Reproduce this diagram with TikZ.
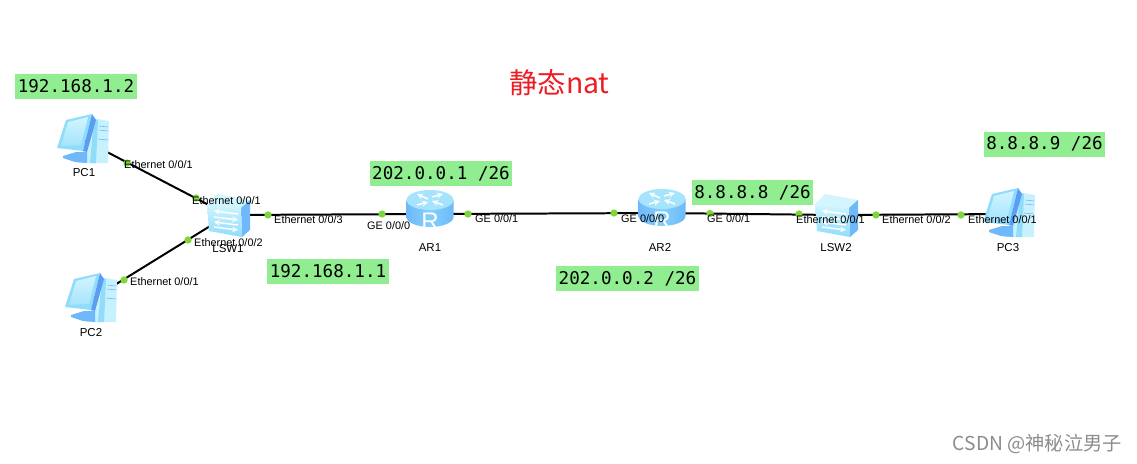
\documentclass[tikz,border=0pt]{standalone}
\usepackage{fontspec}
\setmainfont{Liberation Sans}
\setmonofont{DejaVu Sans Mono}
\newfontfamily\cjkfont{Noto Sans CJK SC}
\definecolor{iconlight}{HTML}{D2F5FF}
\definecolor{iconmid}{HTML}{8FDDFB}
\definecolor{iconblue}{HTML}{6FB8FA}
\definecolor{icondark}{HTML}{5C9DF2}
\definecolor{portgreen}{HTML}{7FD63C}
\definecolor{addrgreen}{HTML}{90EE90}
\definecolor{titlered}{HTML}{ED1C24}
\tikzset{
  link/.style={draw=black, line width=1.7pt},
  portdot/.style={circle, fill=portgreen, inner sep=0pt, minimum size=0.22cm},
  portlabel/.style={anchor=west, inner sep=0pt, font=\fontsize{9.3}{11}\selectfont},
  devlabel/.style={inner sep=0pt, font=\fontsize{9.8}{11}\selectfont},
  addrbox/.style={fill=addrgreen, inner xsep=2.3pt, inner ysep=0pt, minimum height=0.75cm,
    font=\ttfamily\fontsize{15}{17}\selectfont},
  pcicon/.pic={
    \coordinate (-c) at (0,0);
    % tower
    \fill[iconlight!85!iconmid] (8,-22) -- (25,-19) -- (24,23) -- (-6,23) -- (-1,11) -- cycle;
    \fill[iconmid] (10,-21) -- (14,-20) -- (12,23) -- (6,23) -- cycle;
    \draw[iconblue, line width=0.5pt] (15,-14) -- (24,-13) (15,-10) -- (24,-9) (14,-1) -- (24,0);
    % stand
    \fill[iconblue] (-21,16) -- (-8,12) -- (3,12) -- (3,23) -- (-9,22) -- (-21,18) -- cycle;
    % monitor
    \fill[iconmid] (-18,-20) -- (8,-26) -- (-1,11) -- (-27,8) -- cycle;
    \shade[top color=iconlight, bottom color=iconmid!80!white] (-16,-18) -- (4,-23) -- (-3,5) -- (-23,6) -- cycle;
    \fill[icondark] (8,-26) -- (12,-20) -- (3,12) -- (-1,11) -- cycle;
  },
  routericon/.pic={
    \coordinate (-c) at (0,0);
    \shade[left color=iconblue, right color=iconblue, middle color=iconmid!65!iconblue]
      (-23.5,-14) -- (-23.5,3) arc[start angle=180, end angle=0, x radius=23.5, y radius=10]
      -- (23.5,-14) -- cycle;
    \fill[iconmid!80!white] (0,-14) ellipse[x radius=23.5, y radius=10];
    % arrows on top
    \draw[white, line width=1.3pt, -stealth] (-2,-15) -- (-13,-20);
    \draw[white, line width=1.3pt, -stealth] (2,-17) -- (13,-20);
    \draw[white, line width=1.3pt, -stealth] (-13,-9) -- (-2,-12);
    \draw[white, line width=1.3pt, -stealth] (13,-9) -- (2,-13);
    \node[white, inner sep=0pt, font=\fontsize{20.5}{21}\selectfont] (-r) at (0,7.5) {R};
  },
  switchicon/.pic={
    \coordinate (-c) at (0,0);
    \fill[iconlight] (-21,-11) -- (-11,-21) -- (22,-15) -- (13,-7) -- cycle;
    \fill[iconblue] (13,-7) -- (22,-15) -- (22,15) -- (14,22) -- cycle;
    \shade[top color=iconlight, bottom color=iconmid] (-21,-11) -- (13,-7) -- (14,22) -- (-19,16) -- cycle;
    % arrows on front
    \draw[white, line width=1.2pt, stealth-] (-14,-4) -- (10,-1);
    \draw[white, line width=1.2pt, -stealth] (-14,2) -- (10,5);
    \draw[white, line width=1.2pt, stealth-] (-14,7) -- (10,10);
    \draw[white, line width=1.2pt, -stealth] (-14,12) -- (10,15);
  },
}
\begin{document}
\begin{tikzpicture}[x=0.03cm, y=-0.03cm]
  \useasboundingbox (0,0) rectangle (1137,463);

  % Device positions, links go underneath the icons
  \coordinate (pc1pos) at (84,140);
  \coordinate (pc2pos) at (92,299);
  \coordinate (pc3pos) at (1010,214);
  \coordinate (lsw1pos) at (228,215);
  \coordinate (lsw2pos) at (836,215);
  \coordinate (ar1pos) at (430,214);
  \coordinate (ar2pos) at (662,213);

  % Links
  \draw[link] (pc1pos) -- (lsw1pos);
  \draw[link] (pc2pos) -- (lsw1pos);
  \draw[link] (lsw1pos) -- (ar1pos);
  \draw[link] (ar1pos) -- (ar2pos);
  \draw[link] (ar2pos) -- (lsw2pos);
  \draw[link] (lsw2pos) -- (pc3pos);

  % Icons
  \pic (pc1) at (pc1pos) {pcicon};
  \pic (pc2) at (pc2pos) {pcicon};
  \pic (pc3) at (pc3pos) {pcicon};
  \pic (lsw1) at (lsw1pos) {switchicon};
  \pic (lsw2) at (lsw2pos) {switchicon};
  \pic (ar1) at (ar1pos) {routericon};
  \pic (ar2) at (ar2pos) {routericon};

  % Device names
  \node[devlabel] (pc1name) at (84,173) {PC1};
  \node[devlabel] (pc2name) at (91,333) {PC2};
  \node[devlabel] (pc3name) at (1008,248) {PC3};
  \node[devlabel] (lsw1name) at (228,249) {LSW1};
  \node[devlabel] (lsw2name) at (836,248) {LSW2};
  \node[devlabel] (ar1name) at (430,248) {AR1};
  \node[devlabel] (ar2name) at (660,247) {AR2};

  % Port dots
  \node[portdot] (dot1) at (127,163) {};
  \node[portdot] (dot2) at (196,198) {};
  \node[portdot] (dot3) at (188,240) {};
  \node[portdot] (dot4) at (124,280) {};
  \node[portdot] (dot5) at (268,215) {};
  \node[portdot] (dot6) at (382,214) {};
  \node[portdot] (dot7) at (468,214) {};
  \node[portdot] (dot8) at (614,213) {};
  \node[portdot] (dot9) at (710,213.5) {};
  \node[portdot] (dot10) at (799,214) {};
  \node[portdot] (dot11) at (876,215) {};
  \node[portdot] (dot12) at (961,215) {};

  % Port labels
  \node[portlabel] (port1) at (124,165) {Ethernet 0/0/1};
  \node[portlabel] (port2) at (192,201) {Ethernet 0/0/1};
  \node[portlabel] (port3) at (194,243) {Ethernet 0/0/2};
  \node[portlabel] (port4) at (130,282) {Ethernet 0/0/1};
  \node[portlabel] (port5) at (274,220) {Ethernet 0/0/3};
  \node[portlabel] (port6) at (367,226) {GE 0/0/0};
  \node[portlabel] (port7) at (475,219) {GE 0/0/1};
  \node[portlabel] (port8) at (621,219) {GE 0/0/0};
  \node[portlabel] (port9) at (707,219) {GE 0/0/1};
  \node[portlabel] (port10) at (796,220) {Ethernet 0/0/1};
  \node[portlabel] (port11) at (882,220) {Ethernet 0/0/2};
  \node[portlabel] (port12) at (968,220) {Ethernet 0/0/1};

  % Addresses
  \node[addrbox] (addr1) at (76,86.5) {192.168.1.2};
  \node[addrbox] (addr2) at (328,271) {192.168.1.1};
  \node[addrbox] (addr3) at (441,173.5) {202.0.0.1 /26};
  \node[addrbox] (addr4) at (627.5,278.5) {202.0.0.2 /26};
  \node[addrbox] (addr5) at (752.5,192.5) {8.8.8.8 /26};
  \node[addrbox] (addr6) at (1044.5,144) {8.8.8.9 /26};

  % Title and corner mark
  \node[text=titlered, inner sep=0pt, font=\cjkfont\fontsize{24.2}{26}\selectfont] (title) at (559.5,83) {静态nat};
  \node[text=black!45, inner sep=0pt, anchor=east, font=\cjkfont\fontsize{16.4}{18}\selectfont] (mark) at (1122,444) {CSDN @神秘泣男子};
\end{tikzpicture}
\end{document}
